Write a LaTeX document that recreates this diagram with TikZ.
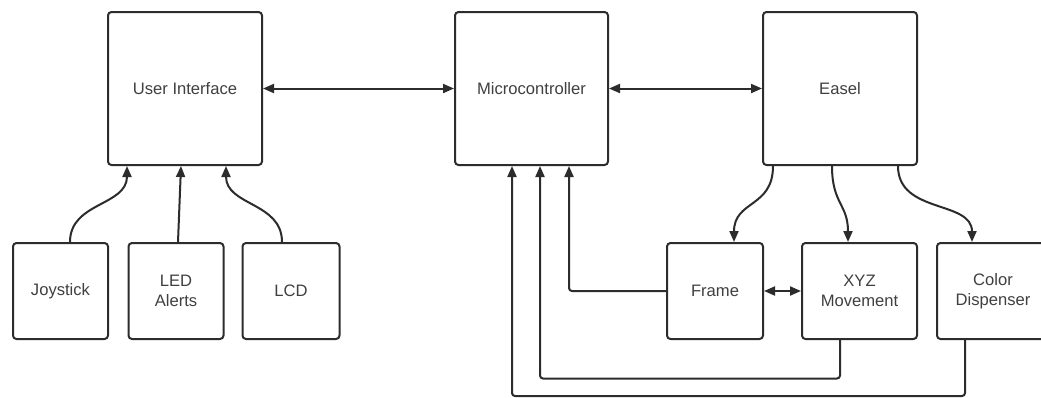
\documentclass[tikz,border=0pt]{standalone}
\usepackage{fontspec}
\setmainfont{Liberation Sans}
\usetikzlibrary{arrows.meta,calc}
\definecolor{edge}{HTML}{2C2C2C}
\definecolor{label}{HTML}{404040}
\begin{document}
\begin{tikzpicture}[x=1pt,y=-1pt,
  block/.style={draw=edge,line width=2pt,rounded corners=3.5pt,fill=white,
    inner sep=0pt,align=center,text=label,
    font=\fontsize{16.6}{19.5}\selectfont},
  link/.style={draw=edge,line width=2pt,
    -{Triangle[length=11pt,width=9pt]}},
  duplex/.style={draw=edge,line width=2pt,
    {Triangle[length=11pt,width=9pt]}-{Triangle[length=11pt,width=9pt]}},
  route/.style={link,rounded corners=3pt}]
\useasboundingbox (0,0) rectangle (1041,397);
\fill[white] (0,0) rectangle (1041,397);

% top row
\node[block,minimum width=154pt,minimum height=153pt] (ui)  at (185,88.5) {User Interface};
\node[block,minimum width=153pt,minimum height=153pt] (mc)  at (531.5,88.5) {Microcontroller};
\node[block,minimum width=154pt,minimum height=153pt] (eas) at (840,88.5) {Easel};

% input devices
\node[block,minimum width=95pt,minimum height=96pt] (joy) at (60.5,291) {Joystick};
\node[block,minimum width=95pt,minimum height=96pt] (led) at (176,291) {LED\\Alerts};
\node[block,minimum width=97pt,minimum height=96pt] (lcd) at (291,291) {LCD};

% easel parts
\node[block,minimum width=96pt,minimum height=96pt] (frm) at (715,291) {Frame};
\node[block,minimum width=115pt,minimum height=96pt] (xyz) at (859.5,291) {XYZ\\Movement};
\node[block,minimum width=112pt,minimum height=96pt] (col) at (993,291) {Color\\Dispenser};

% main bus
\draw[duplex] (ui.east) -- (mc.west);
\draw[duplex] (mc.east) -- (eas.west);

% devices into the user interface
\draw[link] ([xshift=9.5pt]joy.north) .. controls +(0,-40) and +(0,40) .. ([xshift=-58pt]ui.south);
\draw[link] ([xshift=2pt]led.north) -- ([xshift=-4pt]ui.south);
\draw[link] ([xshift=-9pt]lcd.north) .. controls +(0,-40) and +(0,40) .. ([xshift=41pt]ui.south);

% easel to its parts
\draw[link] ([xshift=-67pt]eas.south) .. controls +(0,42) and +(0,-42) .. ([xshift=19pt]frm.north);
\draw[link] ([xshift=-8pt]eas.south) .. controls +(0,38) and +(0,-38) .. ([xshift=-11.5pt]xyz.north);
\draw[link] ([xshift=58pt]eas.south) .. controls +(0,48) and +(0,-42) .. ([xshift=-21pt]col.north);
\draw[duplex] (frm.east) -- (xyz.west);

% feedback to the microcontroller
\draw[route] (frm.west) -| ([xshift=37.5pt]mc.south);
\draw[route] ([xshift=-19.5pt]xyz.south) -- ++(0,38.5) -| ([xshift=8.5pt]mc.south);
\draw[route] ([xshift=-28pt]col.south) -- ++(0,56) -| ([xshift=-19.5pt]mc.south);
\end{tikzpicture}
\end{document}
